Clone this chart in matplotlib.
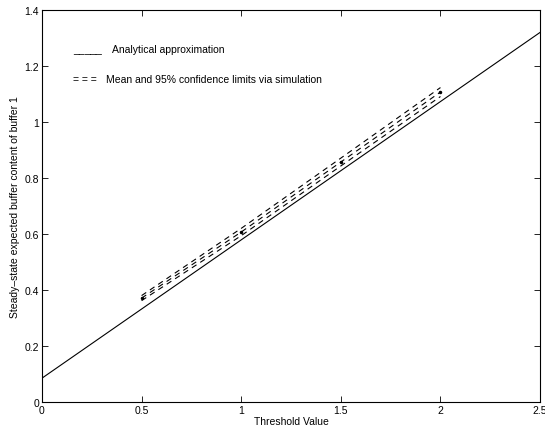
import matplotlib
matplotlib.use("Agg")
import matplotlib.pyplot as plt
import numpy as np

plt.rcParams['font.family'] = ['Liberation Sans', 'DejaVu Sans']

# analytical approximation (straight line)
x_line = [0.0, 2.5]
y_line = [0.085, 1.32]

# simulation: mean and 95% confidence limits
thr = [0.5, 1.0, 1.5, 2.0]
sim_mean = [0.371, 0.607, 0.857, 1.107]
sim_lo = [0.362, 0.594, 0.843, 1.091]
sim_hi = [0.380, 0.620, 0.871, 1.123]

xticks = [0, 0.5, 1, 1.5, 2, 2.5]
yticks = [0, 0.2, 0.4, 0.6, 0.8, 1, 1.2, 1.4]

fig = plt.figure(figsize=(5.45, 4.31), dpi=100)
ax = fig.add_axes([0.077, 0.065, 0.914, 0.9095])

ax.plot(x_line, y_line, color='black', lw=0.8)
for ys in (sim_lo, sim_mean, sim_hi):
    ax.plot(thr, ys, color='black', lw=0.8, ls=(0, (5, 4)))
ax.plot(thr, sim_mean, ls='none', marker='.', ms=3, color='black')

ax.set_xlim(0, 2.5)
ax.set_ylim(0, 1.4)
ax.set_xticks(xticks)
ax.set_xticklabels(['0', '0.5', '1', '1.5', '2', '2.5'])
ax.set_yticks(yticks)
ax.set_yticklabels(['0', '0.2', '0.4', '0.6', '0.8', '1', '1.2', '1.4'])
ax.tick_params(direction='in', top=True, right=True, labelsize=7.5,
               length=4, width=0.6, pad=2)
for s in ax.spines.values():
    s.set_linewidth(0.8)

ax.set_xlabel('Threshold Value', fontsize=7.5, labelpad=1)
ax.set_ylabel('Steady\u2013state expected buffer content of buffer 1', fontsize=7.5, labelpad=3)

# text legend as in the original
ax.text(0.156, 1.262, '_____', fontsize=7.5, va='center')
ax.text(0.35, 1.26, 'Analytical approximation', fontsize=7.5, va='center')
ax.text(0.156, 1.154, '= = =', fontsize=7.5, va='center')
ax.text(0.32, 1.154, 'Mean and 95% confidence limits via simulation', fontsize=7.5, va='center')

fig.savefig('out.png', dpi=100)
